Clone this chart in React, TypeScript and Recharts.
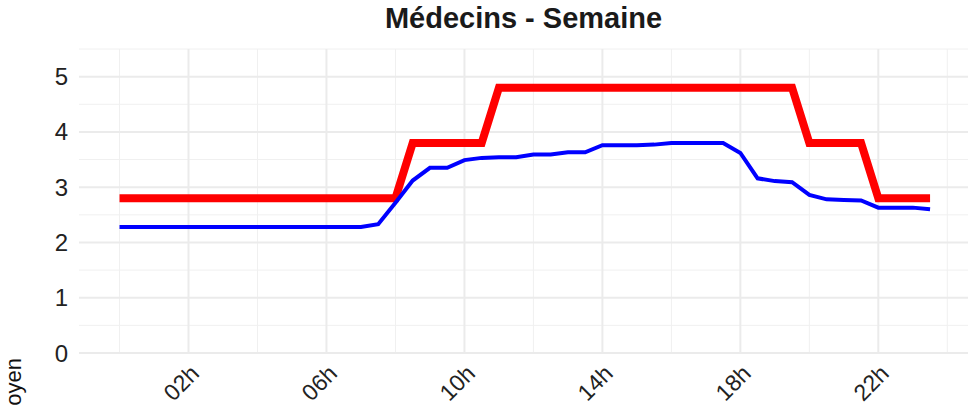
import { LineChart, Line, XAxis, YAxis, CartesianGrid } from 'recharts'

// half-hour slots, 00h00 -> 23h30
const hours = [
  0, 0.5, 1, 1.5, 2, 2.5, 3, 3.5, 4, 4.5, 5, 5.5, 6, 6.5, 7, 7.5,
  8, 8.5, 9, 9.5, 10, 10.5, 11, 11.5, 12, 12.5, 13, 13.5, 14, 14.5, 15, 15.5,
  16, 16.5, 17, 17.5, 18, 18.5, 19, 19.5, 20, 20.5, 21, 21.5, 22, 22.5, 23, 23.5,
]

const effectifCible = [
  2.8, 2.8, 2.8, 2.8, 2.8, 2.8, 2.8, 2.8, 2.8, 2.8, 2.8, 2.8, 2.8, 2.8, 2.8, 2.8,
  2.8, 3.8, 3.8, 3.8, 3.8, 3.8, 4.8, 4.8, 4.8, 4.8, 4.8, 4.8, 4.8, 4.8, 4.8, 4.8,
  4.8, 4.8, 4.8, 4.8, 4.8, 4.8, 4.8, 4.8, 3.8, 3.8, 3.8, 3.8, 2.8, 2.8, 2.8, 2.8,
]

const effectifMoyen = [
  2.28, 2.28, 2.28, 2.28, 2.28, 2.28, 2.28, 2.28, 2.28, 2.28, 2.28, 2.28, 2.28, 2.28, 2.28, 2.33,
  2.72, 3.12, 3.35, 3.35, 3.49, 3.53, 3.54, 3.54, 3.59, 3.59, 3.63, 3.63, 3.76, 3.76, 3.76, 3.77,
  3.8, 3.8, 3.8, 3.8, 3.62, 3.16, 3.11, 3.09, 2.86, 2.78, 2.77, 2.76, 2.63, 2.63, 2.63, 2.6,
]

const xTicks = [2, 6, 10, 14, 18, 22]
const xMinor = [0, 4, 8, 12, 16, 20, 24]
const yTicks = [0, 1, 2, 3, 4, 5]
const yMinor = [0.5, 1.5, 2.5, 3.5, 4.5, 5.5]

const data = hours.map((h, i) => ({ h, cible: effectifCible[i], moyen: effectifMoyen[i] }))

const hourLabel = (h: number) => `${String(h).padStart(2, '0')}h`

function HourTick({ x, y, payload }: any) {
  return (
    <text
      x={x + 12}
      y={y + 20}
      transform={`rotate(-45 ${x + 12} ${y + 20})`}
      textAnchor="end"
      fontFamily="Liberation Sans, Arial, sans-serif"
      fontSize={23}
      fill="#222"
    >
      {hourLabel(payload.value)}
    </text>
  )
}

function YTitle() {
  return (
    <text
      x={21}
      y={358}
      transform="rotate(-90 21 358)"
      textAnchor="end"
      fontFamily="Liberation Sans, Arial, sans-serif"
      fontSize={22}
      fill="#111"
    >
      Nombre moyen
    </text>
  )
}

export default function App() {
  return (
    <div style={{ position: 'absolute', left: 0, top: 0, width: 968, height: 407, overflow: 'hidden', background: '#fff' }}>
      <div
        style={{
          position: 'absolute',
          left: 79,
          width: 889,
          top: 4,
          textAlign: 'center',
          fontFamily: 'Liberation Sans, Arial, sans-serif',
          fontWeight: 'bold',
          fontSize: 29,
          lineHeight: '29px',
          color: '#1a1a1a',
        }}
      >
        Médecins - Semaine
      </div>
      <LineChart width={968} height={407} data={data} margin={{ top: 49, right: 0, bottom: 0, left: 0 }}>
        <CartesianGrid
          stroke="#f0f0f0"
          strokeWidth={1}
          horizontalValues={yMinor}
          verticalValues={xMinor}
        />
        <CartesianGrid stroke="#ebebeb" strokeWidth={2} horizontalValues={yTicks} verticalValues={xTicks} />
        <XAxis
          dataKey="h"
          type="number"
          domain={[-1.175, 24.6]}
          ticks={xTicks}
          allowDataOverflow
          height={54}
          axisLine={false}
          tickLine={false}
          tickSize={0}
          tick={<HourTick />}
        />
        <YAxis
          type="number"
          domain={[0, 5.5]}
          ticks={yTicks}
          allowDataOverflow
          width={79}
          axisLine={false}
          tickLine={false}
          tickSize={0}
          tickMargin={11}
          tick={{ fontFamily: 'Liberation Sans, Arial, sans-serif', fontSize: 24, fill: '#222' }}
          label={<YTitle />}
        />
        <Line
          dataKey="cible"
          stroke="#ff0000"
          strokeWidth={8}
          dot={false}
          type="linear"
          isAnimationActive={false}
        />
        <Line
          dataKey="moyen"
          stroke="#0000ff"
          strokeWidth={4}
          dot={false}
          type="linear"
          isAnimationActive={false}
        />
      </LineChart>
    </div>
  )
}
